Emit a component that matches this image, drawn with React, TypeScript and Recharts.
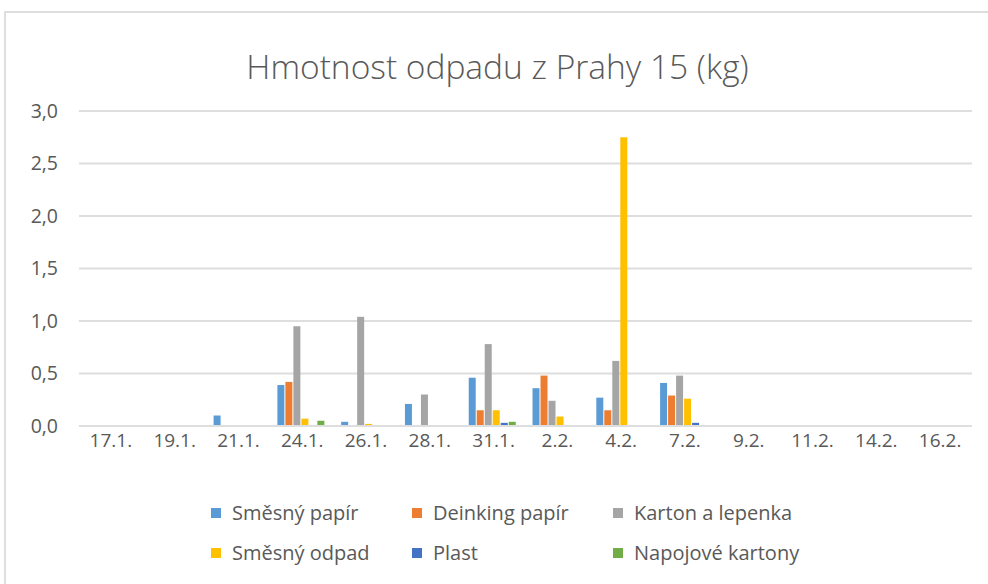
import React from 'react';
import { BarChart, Bar, XAxis, YAxis, CartesianGrid, Legend } from 'recharts';

const categories = ['17.1.', '19.1.', '21.1.', '24.1.', '26.1.', '28.1.', '31.1.', '2.2.', '4.2.', '7.2.', '9.2.', '11.2.', '14.2.', '16.2.'];

const smesnyPapir = [0, 0, 0.1, 0.39, 0.04, 0.21, 0.46, 0.36, 0.27, 0.41, 0, 0, 0, 0];
const deinkingPapir = [0, 0, 0, 0.42, 0, 0, 0.15, 0.48, 0.15, 0.29, 0, 0, 0, 0];
const kartonLepenka = [0, 0, 0, 0.95, 1.04, 0.3, 0.78, 0.24, 0.62, 0.48, 0, 0, 0, 0];
const smesnyOdpad = [0, 0, 0, 0.07, 0.02, 0, 0.15, 0.09, 2.75, 0.26, 0, 0, 0, 0];
const plast = [0, 0, 0, 0, 0, 0, 0.03, 0.005, 0, 0.03, 0, 0, 0, 0];
const napojoveKartony = [0, 0, 0, 0.05, 0, 0, 0.04, 0, 0, 0, 0, 0, 0, 0];

const yTicks = [0, 0.5, 1, 1.5, 2, 2.5, 3];

const series = [
  { key: 'smesnyPapir', name: 'Směsný papír', color: '#5B9BD5', values: smesnyPapir },
  { key: 'deinkingPapir', name: 'Deinking papír', color: '#ED7D31', values: deinkingPapir },
  { key: 'kartonLepenka', name: 'Karton a lepenka', color: '#A5A5A5', values: kartonLepenka },
  { key: 'smesnyOdpad', name: 'Směsný odpad', color: '#FFC000', values: smesnyOdpad },
  { key: 'plast', name: 'Plast', color: '#4472C4', values: plast },
  { key: 'napojoveKartony', name: 'Napojové kartony', color: '#70AD47', values: napojoveKartony },
];

const data = categories.map((c, i) => {
  const row: Record<string, string | number> = { date: c };
  series.forEach((s) => { row[s.key] = s.values[i]; });
  return row;
});

const FONT = '"Open Sans", sans-serif';
const TEXT = '#595959';
const GRID = '#dedede';

// legend in 3 columns x 2 rows like in Excel
function LegendGrid() {
  return (
    <div style={{ display: 'grid', gridTemplateColumns: '201px 201px 200px', rowGap: 17, fontFamily: FONT, fontSize: 20, color: TEXT }}>
      {series.map((s) => (
        <div key={s.key} style={{ display: 'flex', alignItems: 'center', height: 23, whiteSpace: 'nowrap' }}>
          <span style={{ width: 10, height: 10, background: s.color, marginRight: 11, display: 'inline-block' }} />
          {s.name}
        </div>
      ))}
    </div>
  );
}

export default function App() {
  return (
    <div style={{ position: 'absolute', left: 0, top: 0, width: 988, height: 584, overflow: 'hidden', background: '#fff' }}>
      <div style={{ position: 'absolute', left: 4, top: 11, width: 1000, height: 600, border: `2px solid ${GRID}` }} />
      <div style={{ position: 'absolute', left: 0, top: 43, width: 995, textAlign: 'center', fontFamily: FONT, fontWeight: 300, fontSize: 33.5, color: TEXT }}>
        Hmotnost odpadu z Prahy 15 (kg)
      </div>
      <div style={{ position: 'absolute', left: 0, top: 0 }}>
        <BarChart
          width={988}
          height={584}
          data={data}
          margin={{ top: 111, right: 16, left: 19, bottom: 65 }}
          barCategoryGap="11%"
          barGap={1}
        >
          <CartesianGrid vertical={false} stroke={GRID} strokeWidth={2} />
          <XAxis
            dataKey="date"
            height={30}
            tickLine={false}
            axisLine={{ stroke: GRID, strokeWidth: 2 }}
            tick={{ fill: TEXT, fontSize: 19, fontFamily: FONT }}
            interval={0}
          />
          <YAxis
            width={60}
            domain={[0, 3]}
            ticks={yTicks}
            tickLine={false}
            axisLine={false}
            tickMargin={15}
            tick={{ fill: TEXT, fontSize: 19.5, fontFamily: FONT }}
            tickFormatter={(v: number) => v.toFixed(1).replace('.', ',')}
          />
          <Legend
            layout="vertical"
            align="center"
            verticalAlign="bottom"
            wrapperStyle={{ position: 'absolute', left: 211, top: 501, width: 620 }}
            content={() => <LegendGrid />}
          />
          {series.map((s) => (
            <Bar
              key={s.key}
              dataKey={s.key}
              name={s.name}
              fill={s.color}
              isAnimationActive={false}
            />
          ))}
        </BarChart>
      </div>
    </div>
  );
}
